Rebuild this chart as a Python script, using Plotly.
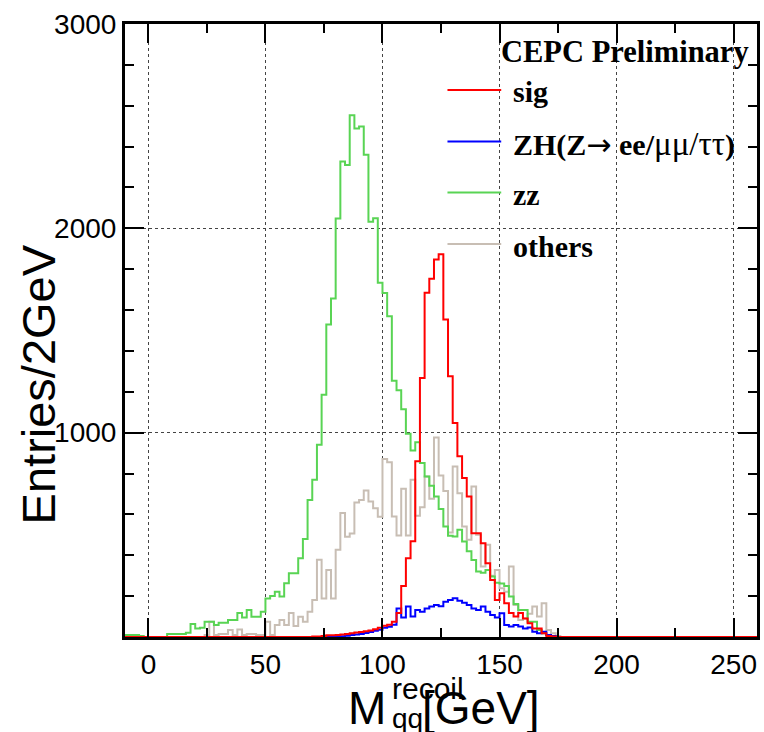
import numpy as np
import plotly.graph_objects as go

# ---------------- data (entries per 2 GeV bin) ----------------
bin_width = 2.0
x_min, x_max = -10.0, 260.0

# zz background, first bin starts at -10 GeV
zz_start = -10
zz_values = [10, 10, 10, 5, 0, 0, 0, 0, 0, 15,
             15, 15, 15, 21, 64, 42, 45, 75, 75, 59,
             70, 70, 83, 83, 118, 96, 132, 99, 99, 124,
             189, 201, 222, 198, 263, 312, 312, 385, 479, 671,
             770, 941, 1186, 1529, 1657, 2048, 2327, 2310, 2554, 2488,
             2498, 2360, 2032, 2049, 1734, 1684, 1570, 1254, 1207, 1115,
             995, 913, 953, 851, 786, 740, 688, 626, 541, 495,
             492, 525, 467, 420, 377, 320, 315, 328, 296, 266,
             262, 250, 198, 162, 132, 132, 75, 75, 34, 18,
             10, 2]

# signal, first bin starts at 70 GeV
sig_start = 70
sig_values = [3, 3, 5, 8, 8, 10, 12, 15, 18, 22,
              25, 28, 32, 38, 45, 55, 60, 75, 118, 250,
              386, 468, 860, 1268, 1685, 1753, 1848, 1873, 1554, 1276,
              1047, 884, 778, 688, 508, 508, 459, 361, 279, 181,
              214, 165, 118, 100, 118, 90, 67, 42, 42, 18,
              5, 2]

# ZH(Z -> ee/mumu/tautau), first bin starts at 80 GeV
zh_start = 80
zh_values = [2, 4, 6, 10, 12, 15, 20, 25, 30, 35,
             45, 50, 60, 140, 95, 149, 100, 132, 124, 140,
             149, 157, 150, 173, 181, 190, 178, 168, 157, 140,
             132, 149, 124, 108, 96, 116, 59, 51, 59, 51,
             42, 47, 26, 18, 26, 10, 5]

# others, first bin starts at 24 GeV
others_start = 24
others_values = [10, 75, 10, 15, 15, 34, 10, 37, 10, 15,
                 15, 10, 10, 75, 10, 59, 83, 59, 118, 54,
                 99, 75, 124, 181, 378, 189, 328, 189, 427, 607,
                 491, 507, 658, 671, 717, 663, 630, 589, 871, 855,
                 590, 497, 725, 497, 770, 594, 635, 785, 676, 976,
                 790, 714, 512, 835, 704, 541, 476, 737, 500, 345,
                 451, 300, 328, 238, 222, 345, 157, 83, 91, 114,
                 149, 100, 165, 34, 18, 5]

x_tick_values = [0, 50, 100, 150, 200, 250]
y_tick_values = [0, 1000, 2000, 3000]
y_tick_labels = ["", "1000", "2000", "3000"]

series_names = ["others", "zz", "ZH", "sig"]
series_colors = {"sig": "#ff0000", "ZH": "#0000ff", "zz": "#59d454", "others": "#c8beb4"}

# ---------------- helpers ----------------
n_bins = int(round((x_max - x_min) / bin_width))
edges = x_min + bin_width * np.arange(n_bins + 1)


def full_hist(start, vals):
    arr = np.zeros(n_bins)
    i0 = int(round((start - x_min) / bin_width))
    arr[i0:i0 + len(vals)] = vals
    return arr


hists = {
    "zz": full_hist(zz_start, zz_values),
    "sig": full_hist(sig_start, sig_values),
    "ZH": full_hist(zh_start, zh_values),
    "others": full_hist(others_start, others_values),
}

fig = go.Figure()
for name in series_names:
    h = hists[name]
    fig.add_trace(go.Scatter(
        x=edges, y=np.append(h, h[-1]),
        mode="lines", line=dict(shape="hv", color=series_colors[name], width=2),
        name=name, showlegend=False, hoverinfo="skip",
    ))

# ---------------- layout ----------------
W, H = 764, 732
L, R, T, B = 125, 4, 24, 95
PW, PH = W - L - R, H - T - B


def px_x(p):
    return (p - L) / PW


def px_y(p):
    return (H - B - p) / PH


sans = "Liberation Sans, Arial, Helvetica, sans-serif"
serif = "Liberation Serif, Times New Roman, Times, serif"

axis_common = dict(
    showline=True, linecolor="black", linewidth=3, mirror="allticks",
    ticks="inside", tickcolor="black", tickwidth=1.5,
    showgrid=True, gridcolor="#444444", griddash="dot", gridwidth=1,
    zeroline=False, tickfont=dict(family=sans, size=28, color="black"),
)

fig.update_layout(
    width=W, height=H,
    margin=dict(l=L, r=R, t=T, b=B, pad=0),
    paper_bgcolor="white", plot_bgcolor="white",
    showlegend=False,
    xaxis=dict(range=[x_min, x_max], tickmode="array", tickvals=x_tick_values,
               ticklen=19, minor=dict(dtick=25, tick0=0, ticklen=9, ticks="inside",
                                      tickcolor="black", tickwidth=1.5, showgrid=False),
               ticklabelstandoff=0, **axis_common),
    yaxis=dict(range=[0, 3000], tickmode="array", tickvals=y_tick_values,
               ticktext=y_tick_labels, ticklen=19,
               minor=dict(dtick=200, tick0=0, ticklen=9, ticks="inside",
                          tickcolor="black", tickwidth=1.5, showgrid=False),
               ticklabelstandoff=0, **axis_common),
)

annotations = []
# header
annotations.append(dict(text="<b>CEPC Preliminary</b>", x=px_x(501), y=px_y(52),
                        xref="paper", yref="paper", xanchor="left", yanchor="middle",
                        showarrow=False, font=dict(family=serif, size=30.5, color="black")))
legend_labels = {"sig": "<b>sig</b>",
                 "ZH": ("<b>ZH(Z</b><span style=\"font-family:DejaVu Sans\">→</span><b> ee/</b>"
                        "<span style=\"font-size:33px\">μμ/ττ</span><b>)</b>"),
                 "zz": "<b>zz</b>", "others": "<b>others</b>"}
legend_order = ["sig", "ZH", "zz", "others"]
legend_line_y = [90, 141.5, 192.5, 244]
shapes = []
for name, ly in zip(legend_order, legend_line_y):
    shapes.append(dict(type="line", xref="paper", yref="paper",
                       x0=px_x(449), x1=px_x(503), y0=px_y(ly), y1=px_y(ly),
                       line=dict(color=series_colors[name], width=2)))
    annotations.append(dict(text=legend_labels[name], x=px_x(513), y=px_y(ly + 2),
                            xref="paper", yref="paper", xanchor="left", yanchor="middle",
                            showarrow=False, font=dict(family=serif, size=30, color="black")))

# x-axis title (stacked super/subscript)
annotations += [
    dict(text="M", x=px_x(347), y=px_y(708), xanchor="left", yanchor="middle",
         font=dict(family=sans, size=46, color="black")),
    dict(text="recoil", x=px_x(391), y=px_y(688), xanchor="left", yanchor="middle",
         font=dict(family=sans, size=30, color="black")),
    dict(text="qq", x=px_x(391), y=px_y(718), xanchor="left", yanchor="middle",
         font=dict(family=sans, size=28, color="black")),
    dict(text="[GeV]", x=px_x(421), y=px_y(708), xanchor="left", yanchor="middle",
         font=dict(family=sans, size=46, color="black")),
]
# y-axis title
annotations.append(dict(text="Entries/2GeV", x=px_x(38), y=px_y(384), textangle=-90,
                        xanchor="center", yanchor="middle",
                        font=dict(family=sans, size=47, color="black")))
for a in annotations:
    a.setdefault("xref", "paper")
    a.setdefault("yref", "paper")
    a.setdefault("showarrow", False)

fig.update_layout(annotations=annotations, shapes=shapes)
fig.write_html("out.html",
               config={"displayModeBar": False},
               post_script="document.body.style.margin='0';document.body.style.overflow='hidden';")
